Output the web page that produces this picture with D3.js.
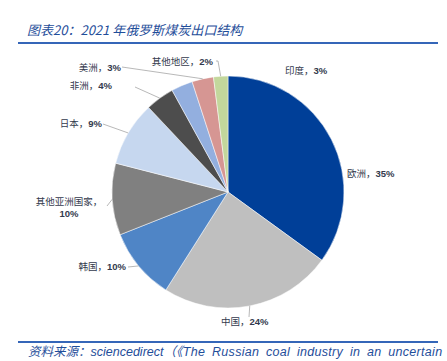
<!DOCTYPE html>
<html>
<head>
<meta charset="utf-8">
<script src="https://cdn.jsdelivr.net/npm/d3@7"></script>
<style>
  body { margin: 0; background: #fff; }
  svg { display: block; }
</style>
</head>
<body>
<svg id="chart" width="447" height="361"></svg>
<script>
// data, clockwise from 12 o'clock
var regions = ["欧洲", "中国", "韩国", "其他亚洲国家", "日本", "非洲", "印度", "美洲", "其他地区"]
var shares  = [35, 24, 10, 10, 9, 4, 3, 3, 2]
var colors  = ["#003f98", "#bfbfbf", "#4f85c6", "#808080", "#c6d7ef", "#4d4d4d", "#93afdf", "#d69693", "#c3d79c"]

var title  = "图表20：2021 年俄罗斯煤炭出口结构"
var sourceHead = "资料来源："
var sourceSite = "sciencedirect"
var sourceBody = "（《The Russian coal industry in an uncertain"

//------------------------------------------------------------------------------
// layout
//------------------------------------------------------------------------------
var cx = 228, cy = 192, r = 116,
    blue = "#1f4e9a",
    cjk = "'Noto Sans CJK SC', 'Noto Sans', sans-serif"

// label placement relative to the pie centre (text x/y, anchor, leader end)
var labelLayout = {
  "欧洲":        {x: 119, y: -15, anchor: "start"},
  "中国":        {x: -7,  y: 133, anchor: "start", lead: [[21, 125]]},
  "韩国":        {x: -102, y: 78, anchor: "end", lead: [[-100, 75]]},
  "其他亚洲国家": {x: -159, y: 13, anchor: "middle", lead: [[-121, 14]], wrap: true},
  "日本":        {x: -126, y: -65, anchor: "end", lead: [[-125, -68]]},
  "非洲":        {x: -116, y: -103, anchor: "end", lead: [[-93, -105]]},
  "印度":        {x: 57,  y: -118, anchor: "start"},
  "美洲":        {x: -107, y: -121, anchor: "end", lead: [[-106, -125]]},
  "其他地区":     {x: -15, y: -127, anchor: "end", lead: [[-12, -131], [-10, -131]]}
}

var svg = d3.select("#chart")

// title + rules
svg.append("text")
  .attr("x", 27).attr("y", 35)
  .attr("font-family", cjk)
  .attr("font-size", 13)
  .attr("font-style", "italic")
  .attr("fill", blue)
  .text(title)

svg.append("line")
  .attr("x1", 18).attr("x2", 438).attr("y1", 43).attr("y2", 43)
  .attr("stroke", "#3566b8").attr("stroke-width", 2)

svg.append("line")
  .attr("x1", 18).attr("x2", 438).attr("y1", 342).attr("y2", 342)
  .attr("stroke", "#3566b8").attr("stroke-width", 2)

var src = svg.append("text")
  .attr("x", 28).attr("y", 356)
  .attr("font-style", "italic")
  .attr("fill", blue)

src.append("tspan")
  .attr("font-family", cjk)
  .attr("font-size", 12.5)
  .text(sourceHead)

src.append("tspan")
  .attr("font-family", "'Liberation Sans', Arial, sans-serif")
  .attr("font-size", 12.5)
  .text(sourceSite)

src.append("tspan")
  .attr("font-family", "'Liberation Sans', Arial, " + cjk)
  .attr("font-size", 12.5)
  .attr("letter-spacing", 0.3)
  .attr("word-spacing", 3)
  .text(sourceBody)

//------------------------------------------------------------------------------
// pie
//------------------------------------------------------------------------------
var data = regions.map(function(d, i) {
  return {name: d, value: shares[i], color: colors[i]}
})

var pie = d3.pie().sort(null).value(function(d) { return d.value })
var arcs = pie(data)
var arc = d3.arc().innerRadius(0).outerRadius(r)

var g = svg.append("g").attr("transform", "translate(" + cx + "," + cy + ")")

g.selectAll("path.slice")
  .data(arcs)
  .enter().append("path")
    .attr("class", "slice")
    .attr("d", arc)
    .attr("fill", function(d) { return d.data.color })
    .attr("stroke", "#fff")
    .attr("stroke-width", 0.5)

// leader lines, from slice edge at mid-angle to the label
g.selectAll("polyline.leader")
  .data(arcs.filter(function(d) { return labelLayout[d.data.name].lead }))
  .enter().append("polyline")
    .attr("class", "leader")
    .attr("fill", "none")
    .attr("stroke", "#a6a6a6")
    .attr("stroke-width", 0.8)
    .attr("points", function(d) {
      var a = (d.startAngle + d.endAngle) / 2,
          p0 = [r * Math.sin(a), -r * Math.cos(a)],
          pts = labelLayout[d.data.name].lead.slice().reverse()
      return [p0].concat(pts).map(function(p) { return p.join(",") }).join(" ")
    })

// labels
var labels = g.selectAll("text.label")
  .data(arcs)
  .enter().append("text")
    .attr("class", "label")
    .attr("font-size", 9.5)
    .attr("fill", "#333a4d")
    .attr("text-anchor", function(d) { return labelLayout[d.data.name].anchor })
    .attr("x", function(d) { return labelLayout[d.data.name].x })
    .attr("y", function(d) { return labelLayout[d.data.name].y })

labels.each(function(d) {
  var t = d3.select(this),
      L = labelLayout[d.data.name]
  t.append("tspan").attr("font-family", cjk).text(d.data.name + "，")
  var pct = t.append("tspan")
    .attr("font-family", "'Liberation Sans', Arial, sans-serif")
    .attr("font-weight", "bold")
    .text(d.data.value + "%")
  if (L.wrap) {
    pct.attr("x", L.x).attr("dy", 12)
  }
})
</script>
</body>
</html>
